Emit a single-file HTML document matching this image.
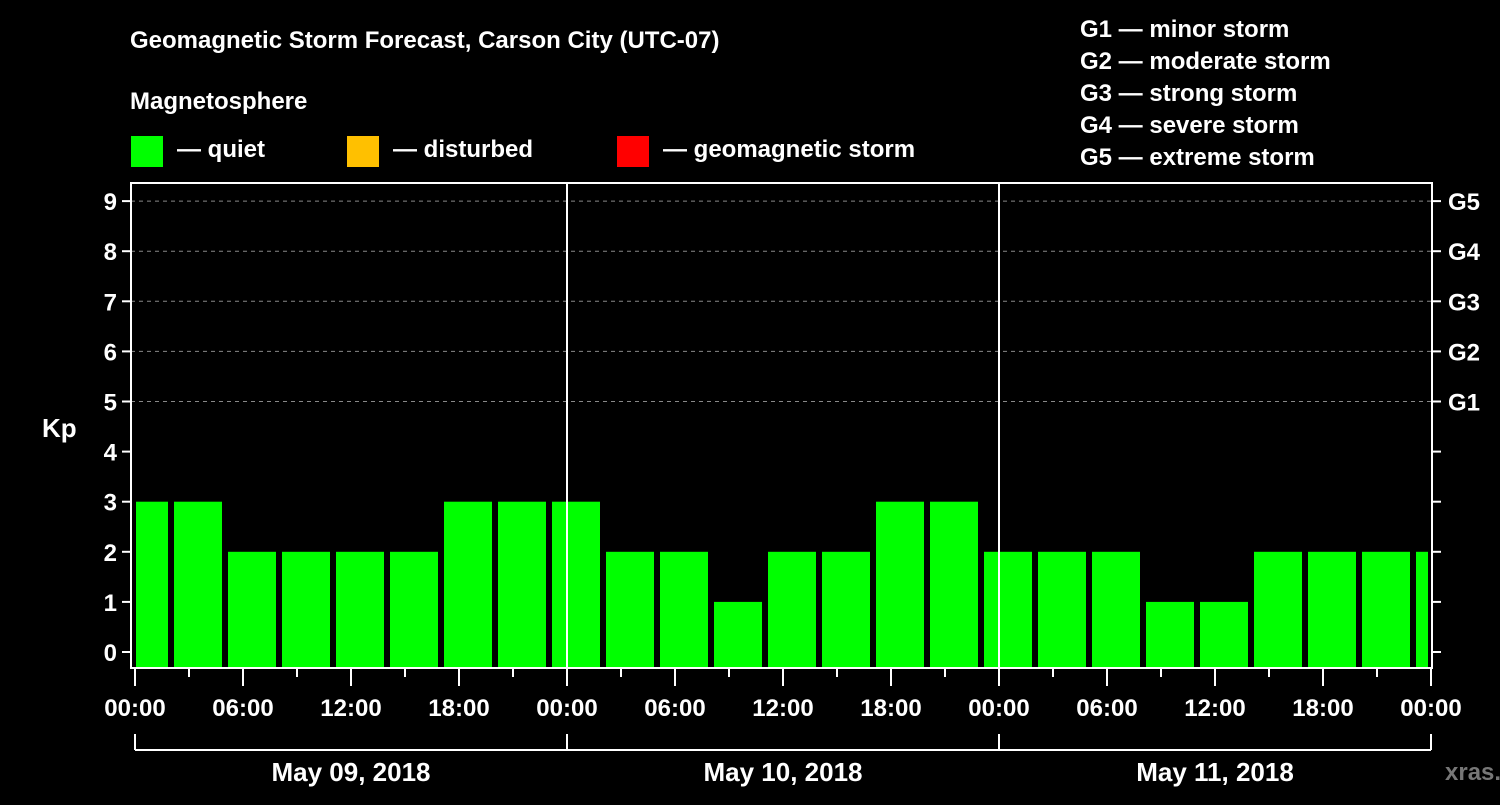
<!DOCTYPE html>
<html><head><meta charset="utf-8"><style>
body{margin:0;background:#000;width:1500px;height:800px;overflow:hidden}
svg{font-family:"Liberation Sans",Arial,sans-serif;font-weight:bold}
</style></head><body>
<svg id="c" width="1500" height="800" xmlns="http://www.w3.org/2000/svg">
<rect width="1500" height="800" fill="#000"/>
<text x="130" y="48" fill="#fff" font-size="24">Geomagnetic Storm Forecast, Carson City (UTC-07)</text>
<text x="130" y="109" fill="#fff" font-size="24">Magnetosphere</text>
<g><rect x="131" y="136" width="32" height="31" fill="#00ff00"/><text x="177" y="157" fill="#fff" font-size="24">— quiet</text></g>
<g><rect x="347" y="136" width="32" height="31" fill="#ffc000"/><text x="393" y="157" fill="#fff" font-size="24">— disturbed</text></g>
<g><rect x="617" y="136" width="32" height="31" fill="#ff0000"/><text x="663" y="157" fill="#fff" font-size="24">— geomagnetic storm</text></g>
<g fill="#fff" font-size="24">
<text x="1080" y="37">G1 — minor storm</text><text x="1080" y="69">G2 — moderate storm</text><text x="1080" y="101">G3 — strong storm</text><text x="1080" y="133">G4 — severe storm</text><text x="1080" y="165">G5 — extreme storm</text>
</g>
<text x="42" y="437" fill="#fff" font-size="26">Kp</text>
<text x="1445" y="780" fill="#777" font-size="24">xras.ru</text>
<g id="grid"></g><g id="bars"></g><g id="axes"></g>
</svg>
<script>
const kpValues=[3,3,2,2,2,2,3,3,3,2,2,1,2,2,3,3,2,2,2,1,1,2,2,2,2];
const yTicks=[0,1,2,3,4,5,6,7,8,9];
const gLabels=["G1","G2","G3","G4","G5"];
const timeLabels=["00:00","06:00","12:00","18:00","00:00","06:00","12:00","18:00","00:00","06:00","12:00","18:00","00:00"];
const dayLabels=["May 09, 2018","May 10, 2018","May 11, 2018"];
const NS="http://www.w3.org/2000/svg";
const X0=135,PXH=18,L=131,R=1432,T=183,B=668;
const x=h=>X0+h*PXH;
const y=v=>652-50.1*v;
function mk(p,tag,a){const e=document.createElementNS(NS,tag);for(const k in a)e.setAttribute(k,a[k]);p.appendChild(e);return e;}
const grid=document.getElementById('grid'),bars=document.getElementById('bars'),axes=document.getElementById('axes');
yTicks.forEach(v=>{
 if(v>=5){const g=mk(grid,'line',{x1:L,x2:R,y1:y(v),y2:y(v),stroke:'#888','stroke-width':1,'stroke-dasharray':'4,4'});
 
 }
 const t=mk(axes,'line',{x1:L-9,x2:L,y1:y(v),y2:y(v),stroke:'#fff','stroke-width':2});
 
 
 const rt=mk(axes,'line',{x1:R,x2:R+9,y1:y(v),y2:y(v),stroke:'#fff','stroke-width':2});
 
 
 const l=mk(axes,'text',{x:L-14,y:y(v)+9,fill:'#fff','font-size':24,'text-anchor':'end'});l.textContent=v;
 
 
});
gLabels.forEach((g,i)=>{const t=mk(axes,'text',{x:R+16,y:y(5+i)+9,fill:'#fff','font-size':24});t.textContent=g;
 
 });
kpValues.forEach((v,k)=>{
 let a=x(3*k)-15,b=a+48;a=Math.max(a,136);b=Math.min(b,1428);
 const r=mk(bars,'rect',{x:a,y:y(v),width:b-a,height:B-y(v),fill:'#00ff00'});
 
 
});
[24,48].forEach(h=>{const d=mk(axes,'line',{x1:x(h),x2:x(h),y1:T,y2:B,stroke:'#fff','stroke-width':2});
 
 });
const box=mk(axes,'rect',{x:L,y:T,width:R-L,height:B-T,fill:'none',stroke:'#fff','stroke-width':2});


for(let h=0;h<=72;h+=3){
 const major=h%6===0;
 const t=mk(axes,'line',{x1:x(h),x2:x(h),y1:B,y2:major?686:677,stroke:'#fff','stroke-width':2});
 
 
}
timeLabels.forEach((s,i)=>{const t=mk(axes,'text',{x:x(6*i),y:716,fill:'#fff','font-size':24,'text-anchor':'middle'});t.textContent=s;
 
 });
[0,24,48,72].forEach(h=>{const t=mk(axes,'line',{x1:x(h),x2:x(h),y1:734,y2:750,stroke:'#fff','stroke-width':2});
 
 });
const bl=mk(axes,'line',{x1:x(0),x2:x(72),y1:750,y2:750,stroke:'#fff','stroke-width':2});


dayLabels.forEach((s,i)=>{const t=mk(axes,'text',{x:x(24*i+12),y:781,fill:'#fff','font-size':26,'text-anchor':'middle'});t.textContent=s;
 
 });
</script>
</body></html>
